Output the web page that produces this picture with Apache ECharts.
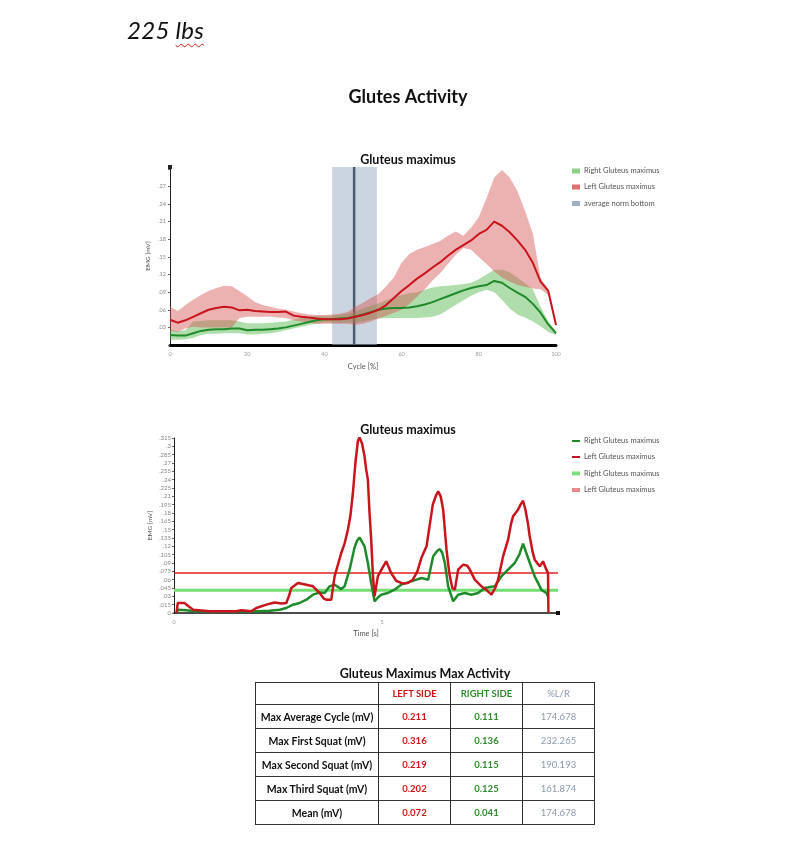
<!DOCTYPE html>
<html>
<head>
<meta charset="utf-8">
<script src="https://cdn.jsdelivr.net/npm/echarts@6/dist/echarts.min.js"></script>
<style>
  body { margin: 0; background: #fff; }
  #chart { position: absolute; left: 0; top: 0; width: 800px; height: 846px; }
  #weight { position: absolute; left: 127px; top: 15px; font: italic 24px Lato, "Open Sans", sans-serif; color: #111; letter-spacing: 0.3px; }
  #weight span { text-decoration: underline wavy #d42020; text-decoration-thickness: 1px; text-underline-offset: 4px; }
  #tblTitle { position: absolute; left: 255px; width: 340px; top: 666px; text-align: center; font: bold 12.5px Lato, sans-serif; color: #111; }
  #tbl { position: absolute; left: 255px; top: 682px; border-collapse: collapse; border: 1.5px solid #222; font-family: Lato, sans-serif; }
  #tbl td { border: 1px solid #333; text-align: center; padding: 0; font-size: 9.5px; }
  #tbl tr.head td { height: 21px; }
  #tbl tr.row td { height: 23px; }
  #tbl td.lab { font-weight: bold; color: #111; width: 122px; font-size: 10.5px; }
  #tbl td.l { color: #d01414; font-weight: bold; width: 71px; }
  #tbl td.r { color: #2e8b2e; font-weight: bold; width: 71px; }
  #tbl td.p { color: #8c9aaa; width: 71px; }
</style>
</head>
<body>
<div id="chart"></div>
<div id="weight">225 <span>lbs</span></div>
<div id="tblTitle">Gluteus Maximus Max Activity</div>
<table id="tbl"></table>
<script>
// ---------- Top chart: average cycle ----------
const cycle = [0,2,4,6,8,10,12,14,16,18,20,22,24,26,28,30,32,34,36,38,40,42,44,46,48,50,52,54,56,58,60,62,64,66,68,70,72,74,76,78,80,82,84,86,88,90,92,94,96,98,100];
const leftMean = [0.043,0.038,0.042,0.048,0.054,0.060,0.063,0.065,0.064,0.059,0.060,0.058,0.057,0.056,0.056,0.057,0.050,0.048,0.047,0.045,0.044,0.044,0.044,0.045,0.048,0.051,0.055,0.060,0.068,0.080,0.092,0.102,0.113,0.122,0.132,0.141,0.152,0.162,0.170,0.178,0.189,0.196,0.210,0.203,0.192,0.178,0.162,0.140,0.108,0.092,0.034];
const leftHigh = [0.065,0.058,0.068,0.077,0.085,0.092,0.097,0.101,0.100,0.092,0.083,0.073,0.068,0.065,0.062,0.060,0.057,0.054,0.052,0.051,0.051,0.052,0.053,0.056,0.065,0.072,0.080,0.087,0.100,0.115,0.140,0.155,0.162,0.167,0.172,0.177,0.186,0.193,0.186,0.200,0.218,0.250,0.285,0.298,0.285,0.262,0.228,0.190,0.114,0.095,0.036];
const leftLow = [0.024,0.022,0.028,0.031,0.030,0.030,0.030,0.030,0.030,0.046,0.048,0.048,0.048,0.048,0.047,0.046,0.042,0.040,0.038,0.036,0.036,0.036,0.036,0.036,0.034,0.036,0.040,0.045,0.050,0.055,0.060,0.070,0.082,0.095,0.110,0.122,0.138,0.153,0.165,0.162,0.150,0.138,0.125,0.115,0.108,0.102,0.099,0.096,0.095,0.085,0.032];
const rightMean = [0.017,0.016,0.016,0.020,0.024,0.026,0.027,0.027,0.028,0.028,0.025,0.026,0.026,0.027,0.028,0.030,0.033,0.036,0.039,0.042,0.044,0.044,0.045,0.046,0.048,0.052,0.056,0.060,0.062,0.063,0.063,0.064,0.066,0.069,0.073,0.078,0.083,0.088,0.093,0.097,0.100,0.102,0.109,0.106,0.097,0.089,0.082,0.070,0.055,0.035,0.020];
const rightHigh = [0.026,0.024,0.025,0.040,0.041,0.042,0.042,0.042,0.042,0.040,0.037,0.037,0.037,0.038,0.039,0.040,0.043,0.046,0.048,0.050,0.050,0.050,0.051,0.053,0.057,0.062,0.067,0.071,0.076,0.081,0.085,0.088,0.090,0.094,0.098,0.100,0.101,0.102,0.104,0.106,0.112,0.120,0.128,0.128,0.124,0.115,0.105,0.095,0.065,0.040,0.022];
const rightLow = [0.009,0.009,0.010,0.012,0.017,0.019,0.019,0.020,0.020,0.020,0.018,0.018,0.019,0.020,0.022,0.025,0.028,0.031,0.034,0.036,0.038,0.038,0.038,0.038,0.038,0.040,0.043,0.045,0.046,0.046,0.046,0.046,0.046,0.047,0.048,0.052,0.060,0.068,0.076,0.084,0.090,0.094,0.090,0.077,0.062,0.052,0.047,0.040,0.032,0.022,0.017];
const normBand = [42, 53.6];      // average norm bottom (cycle %)
const normLine = 47.7;
const topYMax = 0.303;

// ---------- Bottom chart: raw signal over time ----------
const leftTime = [0.06,0.09,0.25,0.35,0.46,0.86,1.50,1.62,1.75,1.85,1.98,2.22,2.42,2.58,2.70,2.76,2.82,2.98,3.18,3.34,3.50,3.60,3.66,3.78,3.86,4.02,4.10,4.18,4.24,4.30,4.36,4.42,4.46,4.52,4.58,4.62,4.66,4.70,4.74,4.78,4.82,4.90,5.00,5.10,5.22,5.34,5.50,5.62,5.74,5.85,5.95,6.07,6.15,6.22,6.30,6.35,6.41,6.47,6.55,6.62,6.69,6.75,6.83,6.95,7.05,7.11,7.23,7.39,7.50,7.63,7.72,7.79,7.91,8.03,8.10,8.15,8.27,8.33,8.39,8.45,8.51,8.55,8.62,8.67,8.79,8.87,8.95,8.99,9.00];
const leftSignal = [0.000,0.018,0.018,0.012,0.006,0.003,0.003,0.005,0.004,0.003,0.009,0.015,0.019,0.017,0.018,0.030,0.045,0.054,0.051,0.048,0.036,0.026,0.024,0.024,0.066,0.108,0.125,0.150,0.175,0.216,0.270,0.310,0.316,0.305,0.282,0.258,0.240,0.180,0.132,0.070,0.030,0.066,0.080,0.093,0.072,0.058,0.053,0.054,0.060,0.075,0.100,0.120,0.160,0.195,0.212,0.219,0.210,0.186,0.114,0.070,0.045,0.042,0.078,0.087,0.085,0.078,0.060,0.048,0.042,0.033,0.045,0.060,0.102,0.132,0.160,0.174,0.186,0.195,0.202,0.185,0.160,0.138,0.110,0.096,0.084,0.093,0.078,0.072,0.000];
const rightTime = [0.06,0.09,0.30,0.50,1.00,1.50,2.00,2.30,2.54,2.70,2.86,3.02,3.18,3.34,3.50,3.62,3.74,3.86,4.02,4.10,4.22,4.34,4.40,4.46,4.52,4.58,4.66,4.74,4.82,4.90,4.98,5.14,5.30,5.46,5.70,5.95,6.11,6.23,6.33,6.39,6.45,6.51,6.59,6.71,6.83,6.99,7.15,7.31,7.47,7.71,7.87,8.03,8.19,8.30,8.39,8.45,8.51,8.67,8.83,8.95,8.99];
const rightSignal = [0.000,0.006,0.005,0.003,0.003,0.003,0.003,0.004,0.006,0.009,0.015,0.018,0.024,0.033,0.037,0.036,0.048,0.051,0.043,0.048,0.078,0.118,0.130,0.136,0.128,0.120,0.090,0.054,0.021,0.028,0.033,0.036,0.042,0.051,0.057,0.063,0.060,0.102,0.112,0.115,0.108,0.090,0.048,0.021,0.033,0.036,0.033,0.036,0.045,0.048,0.066,0.078,0.090,0.105,0.125,0.112,0.099,0.066,0.042,0.036,0.030];
const bottomXMax = 9.23;
const bottomYMax = 0.315;

// ---------- Table ----------
const tableHeader = ['', 'LEFT SIDE', 'RIGHT SIDE', '%L/R'];
const tableRows = ['Max Average Cycle (mV)', 'Max First Squat (mV)', 'Max Second Squat (mV)', 'Max Third Squat (mV)', 'Mean (mV)'];
const leftSide = [0.211, 0.316, 0.219, 0.202, 0.072];
const rightSide = [0.111, 0.136, 0.115, 0.125, 0.041];
const ratioLR = [174.678, 232.265, 190.193, 161.874, 174.678];

// build table
(function () {
  const t = document.getElementById('tbl');
  let html = '<tr class="head"><td class="lab">' + tableHeader[0] + '</td><td class="l">' + tableHeader[1] +
    '</td><td class="r">' + tableHeader[2] + '</td><td class="p">' + tableHeader[3] + '</td></tr>';
  tableRows.forEach((r, i) => {
    html += '<tr class="row"><td class="lab">' + r + '</td><td class="l">' + leftSide[i].toFixed(3) +
      '</td><td class="r">' + rightSide[i].toFixed(3) + '</td><td class="p">' + ratioLR[i].toFixed(3) + '</td></tr>';
  });
  t.innerHTML = html;
})();

const FONT = 'Lato, "Open Sans", sans-serif';
const RED = '#c8141c', GREEN = '#1f8a2a';

function bandSeries(name, low, high, color, z) {
  return {
    type: 'custom', name: name, xAxisIndex: 0, yAxisIndex: 0, z: z, silent: true,
    itemStyle: { color: color },
    encode: { x: 0, y: [1, 2] },
    data: cycle.map((x, i) => [x, low[i], high[i]]),
    renderItem: function (params, api) {
      if (params.dataIndex !== 0) return null;
      const up = cycle.map((x, i) => api.coord([x, high[i]]));
      const lo = cycle.map((x, i) => api.coord([x, low[i]])).reverse();
      return { type: 'polygon', shape: { points: up.concat(lo) }, style: { fill: color } };
    }
  };
}

function legendItem(name, top, color, h, w) {
  return {
    data: [{ name: name, icon: 'rect', itemStyle: { color: color } }],
    left: 572, top: top, padding: 0, itemWidth: w || 8, itemHeight: h,
    selectedMode: false,
    formatter: n => n.trim(),
    textStyle: { fontSize: 7.5, color: '#555', fontFamily: FONT, padding: [0, 0, 0, -1] }
  };
}

const chart = echarts.init(document.getElementById('chart'), null, { renderer: 'canvas' });
chart.setOption({
  animation: false,
  backgroundColor: '#fff',
  graphic: [
    { type: 'text', x: 408, y: 97, style: { text: 'Glutes Activity', font: 'bold 18px ' + FONT, fill: '#111', align: 'center', verticalAlign: 'middle' } },
    { type: 'text', x: 408, y: 160, style: { text: 'Gluteus maximus', font: 'bold 12.5px ' + FONT, fill: '#111', align: 'center', verticalAlign: 'middle' } },
    { type: 'text', x: 408, y: 430, style: { text: 'Gluteus maximus', font: 'bold 12.5px ' + FONT, fill: '#111', align: 'center', verticalAlign: 'middle' } }
  ],
  legend: [
    legendItem('Right Gluteus maximus', 167, '#8fcf88', 5),
    legendItem('Left Gluteus maximus', 183, '#e07070', 5),
    legendItem('average norm bottom', 199.5, '#9fb0c4', 5),
    legendItem('Right Gluteus maximus', 437, GREEN, 2),
    legendItem('Left Gluteus maximus', 453, RED, 2),
    legendItem('Right Gluteus maximus ', 469.5, '#7ee07e', 4),
    legendItem('Left Gluteus maximus ', 486, '#f08a8a', 4)
  ],
  grid: [
    { left: 170, top: 167, width: 386, height: 178 },
    { left: 174, top: 438, width: 384, height: 175 }
  ],
  xAxis: [
    {
      gridIndex: 0, type: 'value', min: 0, max: 100, interval: 20,
      name: 'Cycle [%]', nameLocation: 'middle', nameGap: 18,
      nameTextStyle: { fontSize: 7.5, color: '#555', fontFamily: FONT },
      axisLine: { lineStyle: { color: '#000', width: 3 } },
      axisTick: { show: false },
      axisLabel: { fontSize: 5.5, color: '#999', margin: 6, fontFamily: FONT },
      splitLine: { show: false }
    },
    {
      gridIndex: 1, type: 'value', min: 0, max: bottomXMax, interval: 5,
      name: 'Time [s]', nameLocation: 'middle', nameGap: 17,
      nameTextStyle: { fontSize: 7.5, color: '#555', fontFamily: FONT },
      axisLine: { lineStyle: { color: '#111', width: 1.5 }, symbol: ['none', 'rect'], symbolSize: [4, 4] },
      axisTick: { show: false },
      axisLabel: { fontSize: 5.5, color: '#999', margin: 6, fontFamily: FONT, showMaxLabel: false },
      splitLine: { show: false }
    }
  ],
  yAxis: [
    {
      gridIndex: 0, type: 'value', min: 0, max: topYMax, interval: 0.03,
      name: 'EMG [mV]', nameLocation: 'middle', nameGap: 19, nameRotate: 90,
      nameTextStyle: { fontSize: 6.5, color: '#555', fontFamily: FONT },
      axisLine: { show: true, lineStyle: { color: '#222', width: 1 }, symbol: ['none', 'rect'], symbolSize: [4, 4] },
      axisTick: { show: true, length: 2, lineStyle: { color: '#666' } },
      axisLabel: {
        fontSize: 5.5, color: '#888', margin: 4, fontFamily: FONT,
        formatter: v => (v < 0.001 || v > 0.29) ? '' : v.toFixed(2).replace(/^0/, '')
      },
      splitLine: { show: false }
    },
    {
      gridIndex: 1, type: 'value', min: 0, max: bottomYMax, interval: 0.015,
      name: 'EMG [mV]', nameLocation: 'middle', nameGap: 21, nameRotate: 90,
      nameTextStyle: { fontSize: 6.5, color: '#555', fontFamily: FONT },
      axisLine: { show: true, lineStyle: { color: '#222', width: 1 } },
      axisTick: { show: true, length: 2, lineStyle: { color: '#666' } },
      axisLabel: {
        fontSize: 6, color: '#888', margin: 3, fontFamily: FONT,
        formatter: v => v < 0.001 ? '0' : v.toFixed(3).replace(/0+$/, '').replace(/^0/, '')
      },
      splitLine: { show: false }
    }
  ],
  series: [
    {
      type: 'custom', name: 'average norm bottom', xAxisIndex: 0, yAxisIndex: 0, z: 1, silent: true,
      itemStyle: { color: '#9fb0c4' },
      encode: { x: [0, 1, 2] },
      data: [[normBand[0], normBand[1], normLine]],
      renderItem: function (params, api) {
        const a = api.coord([api.value(0), topYMax]);
        const b = api.coord([api.value(1), 0]);
        const l1 = api.coord([api.value(2), topYMax]);
        const l2 = api.coord([api.value(2), 0]);
        return {
          type: 'group', children: [
            { type: 'rect', shape: { x: a[0], y: a[1], width: b[0] - a[0], height: b[1] - a[1] }, style: { fill: 'rgba(160,178,198,0.55)' } },
            { type: 'line', shape: { x1: l1[0], y1: l1[1], x2: l2[0], y2: l2[1] }, style: { stroke: '#4b5a6c', lineWidth: 2.5 } }
          ]
        };
      }
    },
    bandSeries('Right band', rightLow, rightHigh, 'rgba(80,180,70,0.45)', 2),
    bandSeries('Left band', leftLow, leftHigh, 'rgba(212,85,85,0.45)', 3),
    {
      type: 'line', name: 'Right Gluteus maximus', xAxisIndex: 0, yAxisIndex: 0, z: 5,
      data: cycle.map((x, i) => [x, rightMean[i]]), showSymbol: false, color: GREEN,
      lineStyle: { color: GREEN, width: 2 }
    },
    {
      type: 'line', name: 'Left Gluteus maximus', xAxisIndex: 0, yAxisIndex: 0, z: 6,
      data: cycle.map((x, i) => [x, leftMean[i]]), showSymbol: false, color: RED,
      lineStyle: { color: RED, width: 2 }
    },
    {
      type: 'line', name: 'Right Gluteus maximus ', xAxisIndex: 1, yAxisIndex: 1, z: 3,
      data: [[0, rightSide[4]], [bottomXMax, rightSide[4]]], showSymbol: false, color: '#7ee07e',
      lineStyle: { color: '#74dd74', width: 3 }
    },
    {
      type: 'line', name: 'Left Gluteus maximus ', xAxisIndex: 1, yAxisIndex: 1, z: 3,
      data: [[0, leftSide[4]], [bottomXMax, leftSide[4]]], showSymbol: false, color: '#f08a8a',
      lineStyle: { color: '#e52020', width: 1.5 }
    },
    {
      type: 'line', name: 'Right Gluteus maximus', xAxisIndex: 1, yAxisIndex: 1, z: 5,
      data: rightTime.map((t, i) => [t, rightSignal[i]]), showSymbol: false, color: GREEN,
      lineStyle: { color: GREEN, width: 2.5 }
    },
    {
      type: 'line', name: 'Left Gluteus maximus', xAxisIndex: 1, yAxisIndex: 1, z: 6,
      data: leftTime.map((t, i) => [t, leftSignal[i]]), showSymbol: false, color: RED,
      lineStyle: { color: RED, width: 2.5 }
    }
  ]
});
</script>
</body>
</html>
